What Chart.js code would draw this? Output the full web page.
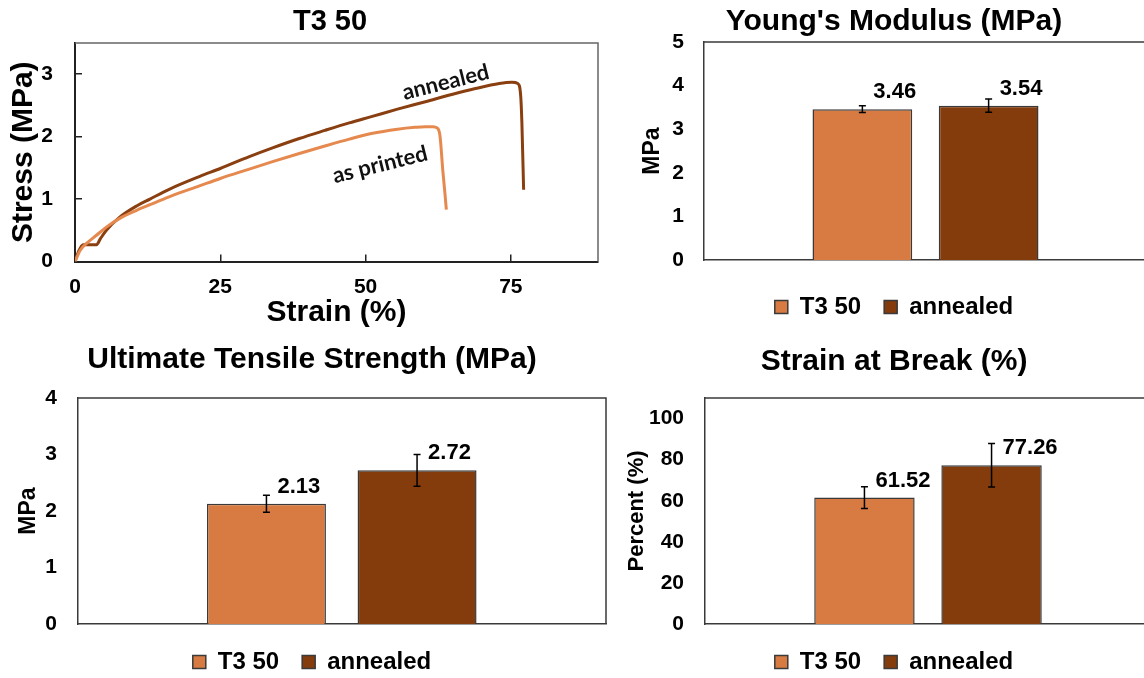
<!DOCTYPE html>
<html>
<head>
<meta charset="utf-8">
<title>T3 50 tensile results</title>
<script src="https://cdn.jsdelivr.net/npm/chart.js@4.4.1/dist/chart.umd.min.js"></script>
<style>
  html, body { margin: 0; padding: 0; background: #fff; overflow: hidden; }
  body { width: 1144px; height: 678px; position: relative; }
  canvas { position: absolute; }
</style>
</head>
<body>
<canvas id="curveChart" width="660" height="335" style="left:0px;top:0px"></canvas>
<canvas id="modulusChart" width="512" height="329" style="left:638px;top:0px"></canvas>
<canvas id="utsChart" width="604" height="344" style="left:10px;top:340px"></canvas>
<canvas id="breakChart" width="544" height="344" style="left:622px;top:340px"></canvas>
<script>
// stress-strain curves (strain in %, stress in MPa)
const printedStrain = [0, 0.9, 2.0, 3.7, 5.4, 7.7, 10.6, 12.9, 16.3, 21.4, 25.0, 30.0, 34.0, 38.6, 43.0, 47.2, 51.0, 55.5, 58.5, 60.3, 61.6, 62.3, 62.8, 63.3, 63.7, 63.9];
const printedStress = [0, 0.18, 0.29, 0.42, 0.55, 0.69, 0.82, 0.91, 1.04, 1.21, 1.33, 1.48, 1.60, 1.73, 1.85, 1.96, 2.05, 2.12, 2.15, 2.16, 2.16, 2.14, 2.02, 1.45, 1.05, 0.83];
const annealedStrain = [0, 0.6, 1.4, 3.7, 4.4, 5.4, 7.7, 10.6, 12.9, 16.3, 21.4, 25.0, 30.0, 34.0, 38.6, 43.0, 47.2, 51.0, 55.5, 60.3, 65.0, 68.9, 73.0, 75.2, 76.2, 76.7, 76.9, 77.2];
const annealedStress = [0, 0.16, 0.27, 0.27, 0.37, 0.50, 0.71, 0.89, 1.00, 1.16, 1.36, 1.49, 1.68, 1.82, 1.97, 2.10, 2.22, 2.32, 2.44, 2.56, 2.68, 2.77, 2.85, 2.87, 2.85, 2.65, 2.23, 1.15];

const curveNames = ['as printed', 'annealed'];

// bar panels: one bar per series
const seriesNames = ['T3 50', 'annealed'];
const modulusMeans = [3.46, 3.54];
const modulusErrors = [0.075, 0.15];
const utsMeans = [2.13, 2.72];
const utsErrors = [0.15, 0.28];
const breakMeans = [61.52, 77.26];
const breakErrors = [5.3, 10.6];

const lightFill = '#D87B42';
const darkFill = '#843C0C';

Chart.defaults.font.family = '"Liberation Sans", Arial, sans-serif';
Chart.defaults.font.weight = 'bold';
Chart.defaults.color = '#000';

// top and right edges of the plot box
const frameLines = {
  id: 'frameLines',
  afterDraw(chart, args, opts) {
    const { ctx, chartArea: a } = chart;
    ctx.save();
    ctx.strokeStyle = opts.color;
    ctx.lineWidth = opts.width;
    ctx.beginPath();
    ctx.moveTo(a.left, a.top);
    ctx.lineTo(a.right, a.top);
    ctx.lineTo(a.right, a.bottom);
    ctx.stroke();
    ctx.restore();
  }
};

// error whiskers plus the mean printed beside each bar
const errorBars = {
  id: 'errorBars',
  afterDatasetsDraw(chart) {
    const { ctx } = chart;
    const y = chart.scales.y;
    ctx.save();
    chart.data.datasets.forEach((ds, i) => {
      chart.getDatasetMeta(i).data.forEach((bar, j) => {
        const v = ds.data[j];
        const e = ds.errors[j];
        const top = y.getPixelForValue(v + e);
        const bot = y.getPixelForValue(v - e);
        ctx.strokeStyle = '#000';
        ctx.lineWidth = 1.5;
        ctx.beginPath();
        ctx.moveTo(bar.x, top); ctx.lineTo(bar.x, bot);
        ctx.moveTo(bar.x - 3.5, top); ctx.lineTo(bar.x + 3.5, top);
        ctx.moveTo(bar.x - 3.5, bot); ctx.lineTo(bar.x + 3.5, bot);
        ctx.stroke();

        ctx.fillStyle = '#000';
        ctx.font = 'bold 22px "Liberation Sans", Arial, sans-serif';
        ctx.textAlign = 'left';
        ctx.textBaseline = 'middle';
        ctx.fillText(v.toFixed(2), bar.x + 11, bar.y - 17);
      });
    });
    ctx.restore();
  }
};

// slanted names written next to each curve
const curveNotes = [
  { text: 'annealed', x: 63.8, y: 2.87, angle: 14 },
  { text: 'as printed', x: 52.5, y: 1.55, angle: 14 }
];
const curveLabels = {
  id: 'curveLabels',
  afterDatasetsDraw(chart) {
    const { ctx, scales: { x, y } } = chart;
    ctx.save();
    ctx.font = 'bold 22px Lato, "Open Sans", sans-serif';
    ctx.fillStyle = '#111';
    ctx.textAlign = 'center';
    ctx.textBaseline = 'middle';
    curveNotes.forEach(n => {
      ctx.save();
      ctx.translate(x.getPixelForValue(n.x), y.getPixelForValue(n.y));
      ctx.rotate(-n.angle * Math.PI / 180);
      ctx.fillText(n.text, 0, 0);
      ctx.restore();
    });
    ctx.restore();
  }
};

function pairUp(xs, ys) {
  return xs.map((x, i) => ({ x: x, y: ys[i] }));
}

new Chart(document.getElementById('curveChart'), {
  type: 'line',
  data: {
    datasets: [
      {
        label: curveNames[0],
        data: pairUp(printedStrain, printedStress),
        borderColor: '#E5894F',
        borderWidth: 3,
        pointRadius: 0,
        cubicInterpolationMode: 'monotone'
      },
      {
        label: curveNames[1],
        data: pairUp(annealedStrain, annealedStress),
        borderColor: '#8A3F10',
        borderWidth: 3,
        pointRadius: 0,
        cubicInterpolationMode: 'monotone'
      }
    ]
  },
  options: {
    responsive: false,
    animation: false,
    plugins: {
      title: { display: true, text: 'T3 50', font: { size: 29 }, padding: { top: 4.6, bottom: 3.6 } },
      legend: { display: false },
      tooltip: { enabled: false },
      frameLines: { color: '#666', width: 1.5 }
    },
    scales: {
      x: {
        type: 'linear',
        min: 0,
        max: 90,
        ticks: { stepSize: 25, includeBounds: false, padding: 20, font: { size: 21 } },
        grid: { drawOnChartArea: false, tickLength: -7, color: '#222', lineWidth: 1.5 },
        border: { color: '#222', width: 2 },
        title: { display: true, text: 'Strain (%)', font: { size: 30 }, padding: { top: 0, bottom: 4 } },
        afterFit: s => { s.height = 73.5; }
      },
      y: {
        min: 0,
        max: 3.5,
        ticks: { stepSize: 1, includeBounds: false, padding: 29, font: { size: 21 } },
        grid: { drawOnChartArea: false, tickLength: -7, color: '#222', lineWidth: 1.5 },
        border: { color: '#222', width: 2 },
        title: { display: true, text: 'Stress (MPa)', font: { size: 30 }, padding: { top: 6, bottom: 0 } },
        afterFit: s => { s.width = 75; }
      },
      pad: {
        type: 'linear',
        position: 'right',
        ticks: { display: false },
        grid: { display: false },
        border: { display: false },
        afterFit: s => { s.width = 62; }
      }
    }
  },
  plugins: [frameLines, curveLabels]
});

function barPanel(id, title, yTitle, means, errors, yMax, yStep, box) {
  return new Chart(document.getElementById(id), {
    type: 'bar',
    data: {
      labels: [''],
      datasets: seriesNames.map((name, i) => ({
        label: name,
        data: [means[i]],
        errors: [errors[i]],
        backgroundColor: [lightFill, darkFill][i],
        borderColor: '#3a3a3a',
        borderWidth: 1.5,
        categoryPercentage: 0.57,
        barPercentage: 0.79
      }))
    },
    options: {
      responsive: false,
      animation: false,
      plugins: {
        title: { display: true, text: title, font: { size: 30 }, padding: { top: box.titleTop, bottom: box.titleBottom } },
        legend: {
          position: 'bottom',
          labels: { boxWidth: 13, boxHeight: 13, padding: 23, font: { size: 24 }, color: '#000' }
        },
        tooltip: { enabled: false },
        frameLines: { color: '#3a3a3a', width: 1.5 }
      },
      scales: {
        x: {
          ticks: { display: false },
          grid: { display: false, drawTicks: false },
          border: { color: '#3a3a3a', width: 1.5 },
          afterFit: s => { s.height = box.xHeight; }
        },
        y: {
          min: 0,
          max: yMax,
          ticks: { stepSize: yStep, includeBounds: false, padding: box.tickPad, font: { size: 21 } },
          grid: { display: false, drawTicks: false },
          border: { color: '#3a3a3a', width: 1.5 },
          title: { display: true, text: yTitle, font: { size: box.yTitleSize }, padding: { top: box.yTitlePad, bottom: 0 } },
          afterFit: s => { s.width = box.yWidth; }
        },
        pad: {
          type: 'linear',
          position: 'right',
          ticks: { display: false },
          grid: { display: false, drawTicks: false },
          border: { display: false },
          afterFit: s => { s.width = box.right; }
        }
      }
    },
    plugins: [frameLines, errorBars]
  });
}

barPanel('modulusChart', "Young's Modulus (MPa)", 'MPa', modulusMeans, modulusErrors, 5, 1,
  { titleTop: 4, titleBottom: 2, xHeight: 12, tickPad: 20, yTitlePad: 0.5, yTitleSize: 23, yWidth: 66, right: 3 });

barPanel('utsChart', 'Ultimate Tensile Strength (MPa)', 'MPa', utsMeans, utsErrors, 4, 1,
  { titleTop: 2, titleBottom: 20, xHeight: 3, tickPad: 20.5, yTitlePad: 5.2, yTitleSize: 23, yWidth: 67.5, right: 8 });

barPanel('breakChart', 'Strain at Break (%)', 'Percent (%)', breakMeans, breakErrors, 110, 20,
  { titleTop: 4, titleBottom: 18, xHeight: 3, tickPad: 21, yTitlePad: 1.8, yTitleSize: 22, yWidth: 83, right: 15 });
</script>
</body>
</html>
